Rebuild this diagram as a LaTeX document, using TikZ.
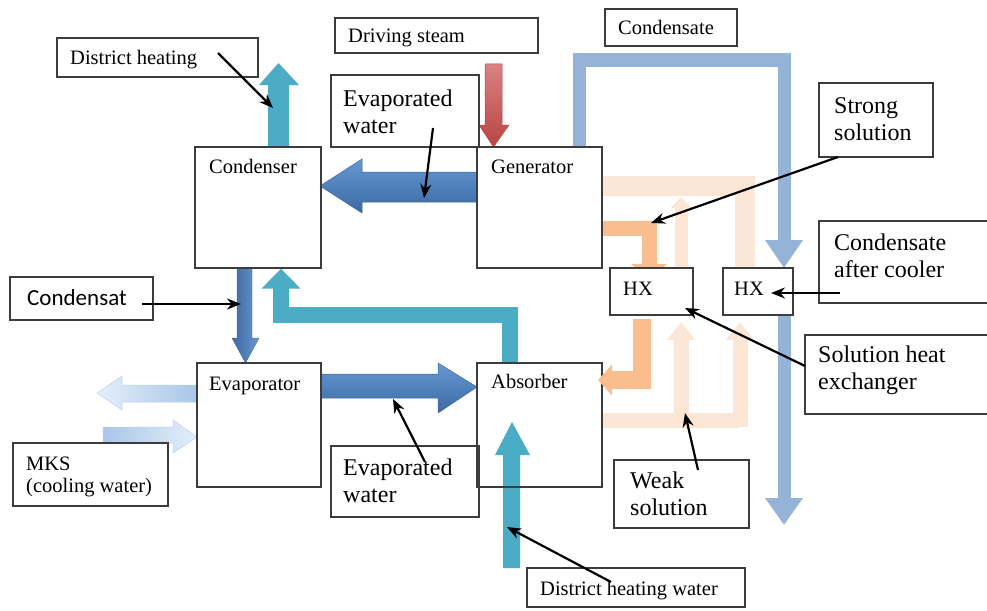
\documentclass[tikz,border=0pt]{standalone}
\usepackage{fontspec}
\setmainfont{Liberation Serif}
\newfontfamily\labelsans{Carlito}
\usetikzlibrary{arrows.meta,fit}

\definecolor{flowteal}{RGB}{75,172,198}
\definecolor{flowblue}{RGB}{79,129,189}
\definecolor{flowblueL}{RGB}{105,152,208}
\definecolor{flowblueD}{RGB}{62,104,162}
\definecolor{flowsteel}{RGB}{149,179,215}
\definecolor{floworange}{RGB}{250,190,142}
\definecolor{flowpeach}{RGB}{252,230,213}
\definecolor{flowredL}{RGB}{218,130,130}
\definecolor{flowredD}{RGB}{185,68,68}
\definecolor{flowpale}{RGB}{212,228,246}
\definecolor{flowpaleD}{RGB}{168,198,232}
\definecolor{boxline}{RGB}{60,60,60}

\tikzset{
  box/.style={draw=boxline, line width=1.4pt, inner sep=0pt},
  hxbox/.style={box, fill=white},
  % multi-line labels are placed by the baseline of their last line
  small/.style={font=\fontsize{20.5}{22}\selectfont, inner sep=0pt, anchor=base west, align=left},
  big/.style={font=\fontsize{24}{27.5}\selectfont, inner sep=0pt, anchor=base west, align=left},
  pointer/.style={draw=black, line width=2.2pt, -{Stealth[length=14pt,width=11pt]}},
  band/.style={line cap=butt, line join=miter},
}

\begin{document}
\begin{tikzpicture}[x=1pt,y=-1pt]
\useasboundingbox (0,0) rectangle (987,610);

% ---------- straight block arrows ----------
% district heating out of the condenser
\fill[flowteal] (268,147) -- (268,85) -- (259,85) -- (278.5,63) -- (299,85) -- (289,85) -- (289,147) -- cycle;
% driving steam into the generator
\shade[top color=flowredL, bottom color=flowredD, draw=flowredD, line width=0.5pt]
  (485,64) -- (502,64) -- (502,125) -- (509,125) -- (493.5,147) -- (479,125) -- (485,125) -- cycle;
% evaporated water, generator to condenser
\shade[top color=flowblueL, bottom color=flowblueD, middle color=flowblue, draw=flowblueD, line width=0.5pt]
  (477,172) -- (362,172) -- (362,159) -- (320,186) -- (362,213) -- (362,202) -- (477,202) -- cycle;
% condensate, condenser to evaporator
\shade[left color=flowblueD, right color=flowblueL, draw=flowblueD, line width=0.4pt]
  (237,268) -- (252,268) -- (252,338) -- (259,338) -- (245.5,363) -- (232,338) -- (237,338) -- cycle;
% evaporated water, evaporator to absorber
\shade[top color=flowblueL, bottom color=flowblueD, middle color=flowblue, draw=flowblueD, line width=0.5pt]
  (321,374) -- (438,374) -- (438,363) -- (477,387) -- (438,413) -- (438,398) -- (321,398) -- cycle;
% district heating water into the absorber
\fill[flowteal] (503,568) -- (503,455) -- (495,455) -- (512,422) -- (530,455) -- (520,455) -- (520,568) -- cycle;
% cooling water (MKS) out and in
\shade[left color=flowpale!60!white, right color=flowpaleD, draw=flowpaleD!80!white, line width=0.5pt]
  (197,385) -- (122,385) -- (122,376) -- (97,393) -- (122,410) -- (122,402) -- (197,402) -- cycle;
\shade[left color=flowpaleD, right color=flowpale!60!white, draw=flowpaleD!80!white, line width=0.5pt]
  (103,427) -- (173,427) -- (173,420) -- (197,437) -- (173,453) -- (173,443) -- (103,443) -- cycle;

% ---------- boxes ----------
\node[box, fit={(57,38) (258,77)}] (dhbox) {};
\node[box, fit={(195,147) (321,268)}] (condenser) {};
\node[box, fit={(335,18) (538,53)}] (dsbox) {};
\node[box, fit={(331,75) (479,147)}] (ewtbox) {};
\node[box, fit={(477,147) (602,268)}] (generator) {};
\node[box, fit={(605,9) (737,46)}] (cdbox) {};
\node[box, fit={(819,83) (933,157)}] (ssbox) {};
\node[box, fit={(819,221) (992,303)}] (cacbox) {};
\node[box, fit={(10,277) (153,320)}] (csbox) {};
\node[box, fit={(197,363) (321,487)}] (evaporator) {};
\node[box, fit={(13,443) (168,506)}] (mksbox) {};
\node[box, fit={(477,363) (602,487)}] (absorber) {};
\node[box, fit={(331,446) (479,517)}] (ewbbox) {};
\node[box, fit={(527,568) (745,607)}] (dhwbox) {};
\node[box, fit={(614,460) (749,528)}] (wsbox) {};
\node[box, fit={(805,335) (992,414)}] (shebox) {};

% ---------- bent flows ----------
% heat from absorber back to condenser
\draw[band, flowteal, line width=16pt, -{Triangle[width=38pt,length=20pt]}]
  (510,0 |- absorber.north) -- (510,315) -- (281,315) -- (281,0 |- condenser.south);
% driving-steam condensate loop through the after cooler
\draw[band, flowsteel, line width=13pt, -{Triangle[width=36pt,length=28pt]}]
  (579,0 |- generator.north) -- (579,60) -- (784,60) -- (784,268);
% weak solution back to the generator
\draw[band, flowpeach, line width=20pt] (generator.east |- 0,186) -- (745,186) -- (745,268);
\draw[band, flowpeach, line width=13pt, -{Triangle[width=20pt,length=11pt]}] (681,268) -- (681,197);
% weak solution from the absorber into both exchangers
\draw[band, flowpeach, line width=15pt] (absorber.east |- 0,420) -- (740,420);
\draw[band, flowpeach, line width=15pt, -{Triangle[width=27pt,length=18pt]}] (740,427) -- (740,322);
\draw[band, flowpeach, line width=15pt, -{Triangle[width=27pt,length=18pt]}] (681,427) -- (681,322);
% strong solution, generator to exchanger to absorber
\draw[band, floworange, line width=15pt, -{Triangle[width=35pt,length=16pt]}]
  (generator.east |- 0,228) -- (649,228) -- (649,280);
\draw[band, floworange, line width=18pt, -{Triangle[width=30pt,length=14pt]}]
  (642,319) -- (642,380) -- (598,380);

% heat exchangers
\node[hxbox, fit={(610,268) (693,315)}] (hx1) {};
\node[hxbox, fit={(723,268) (793,315)}] (hx2) {};
% condensate after the after cooler
\draw[band, flowsteel, line width=13pt, -{Triangle[width=36pt,length=27pt]}]
  (784,0 |- hx2.south) -- (784,525);

% ---------- texts ----------
\node[small] (t-dh) at (70,64) {District heating};
\node[small] (t-cond) at (209,173) {Condenser};
\node[small] (t-ds) at (348,43) {Driving steam};
\node[big] (t-ewt) at (343,133.5) {Evaporated\\water};
\node[small] (t-gen) at (491,173) {Generator};
\node[small] (t-cd) at (618,35) {Condensate};
\node[big] (t-ss) at (834,140.5) {Strong\\solution};
\node[small] (t-hx1) at (623,295) {HX};
\node[small] (t-hx2) at (734,295) {HX};
\node[big] (t-cac) at (834,277.5) {Condensate\\after cooler};
\node[big, font=\labelsans\fontsize{23}{27}\selectfont] (t-cs) at (27,305) {Condensat};
\node[small] (t-evap) at (209,390) {Evaporator};
\node[small] (t-mks) at (26,492) {MKS\\(cooling water)};
\node[small] (t-abs) at (491,388) {Absorber};
\node[big] (t-ewb) at (343,502.5) {Evaporated\\water};
\node[small] (t-dhw) at (540,595) {District heating water};
\node[big] (t-ws) at (630,515.5) {Weak\\solution};
\node[big] (t-she) at (818,389.5) {Solution heat\\exchanger};

% ---------- annotation pointers ----------
\coordinate (p-dh) at (218,53);      \coordinate (q-dh) at (273,108);
\coordinate (p-ewt) at (433,128);    \coordinate (q-ewt) at (424,198);
\coordinate (p-ss) at (838,157);     \coordinate (q-ss) at (651,223);
\coordinate (p-cac) at (840,293);    \coordinate (q-cac) at (771,293);
\coordinate (p-she) at (805,366);    \coordinate (q-she) at (685,308);
\coordinate (p-cs) at (142,304);     \coordinate (q-cs) at (241,304);
\coordinate (p-ewb) at (425,462);    \coordinate (q-ewb) at (393,399);
\coordinate (p-dhw) at (611,582);    \coordinate (q-dhw) at (507,527);
\coordinate (p-ws) at (698,470);     \coordinate (q-ws) at (685,413);
\foreach \n in {dh,ewt,ss,cac,she,cs,ewb,dhw,ws}
  \draw[pointer] (p-\n) -- (q-\n);
\end{tikzpicture}
\end{document}
